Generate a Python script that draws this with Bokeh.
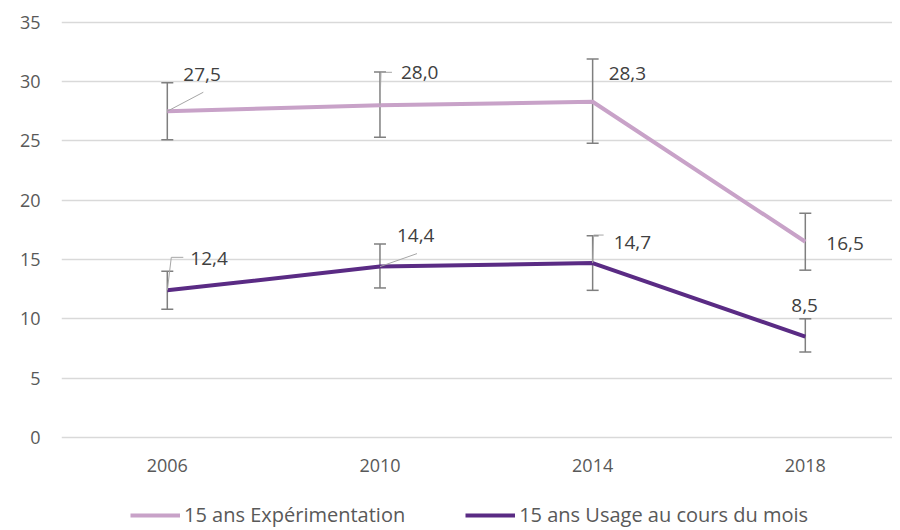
from bokeh.plotting import figure
from bokeh.models import (Range1d, FixedTicker, ColumnDataSource, Whisker, TeeHead,
                          Legend, LegendItem)
from bokeh.embed import file_html
from bokeh.resources import INLINE
from bokeh.core.properties import value

# ---- data ----
years = [2006, 2010, 2014, 2018]
year_labels = ["2006", "2010", "2014", "2018"]
exp_values = [27.5, 28.0, 28.3, 16.5]
exp_lower = [25.1, 25.3, 24.8, 14.1]
exp_upper = [29.9, 30.8, 31.9, 18.9]
exp_labels = ["27,5", "28,0", "28,3", "16,5"]
usage_values = [12.4, 14.4, 14.7, 8.5]
usage_lower = [10.8, 12.6, 12.4, 7.2]
usage_upper = [14.0, 16.3, 17.0, 10.0]
usage_labels = ["12,4", "14,4", "14,7", "8,5"]
y_ticks = [0, 5, 10, 15, 20, 25, 30, 35]
series_names = ["15 ans Expérimentation", "15 ans Usage au cours du mois"]

# ---- styles ----
EXP_COLOR = "#c8a2c8"
USE_COLOR = "#5a2b84"
BAR_COLOR = "#7f7f7f"
GRID_COLOR = "#d9d9d9"
TICK_TEXT = "#595959"
LABEL_TEXT = "#404040"
FONT = "Open Sans"

# label pixel offsets (screen, y down)
exp_off = [(16, -37), (21, -33), (16, -28), (21, 2)]
use_off = [(23, -32), (17, -31), (21, -21), (-14, -31)]
# leader lines in pixel offsets relative to point
exp_leaders = {0: [(0, 0), (36, -19)], 1: [(0, 0), (1, -33), (12, -33)]}
use_leaders = {0: [(0, 0), (4, -33), (16, -33)], 1: [(0, 0), (37, -13)],
               2: [(0, 0), (1, -28), (11, -28)]}

# frame extends below zero to hold the year labels and the legend
X0, X1 = 2004.01, 2019.64
Y0, Y1 = -7.68, 35.15
FW, FH = 831, 508

p = figure(frame_width=FW, frame_height=FH, output_backend="svg", toolbar_location=None,
           x_range=Range1d(X0, X1), y_range=Range1d(Y0, Y1),
           min_border_left=61, min_border_right=0, min_border_top=20, min_border_bottom=0)
p.outline_line_color = None
p.background_fill_color = "white"
p.border_fill_color = "white"

sx = FW / (X1 - X0)
sy = FH / (Y1 - Y0)

# axes
p.xaxis.visible = False
p.yaxis.ticker = FixedTicker(ticks=y_ticks)
ax = p.yaxis
ax.axis_line_color = None
ax.major_tick_line_color = None
ax.minor_tick_line_color = None
ax.major_tick_out = 0
ax.major_tick_in = 0
ax.major_label_text_color = TICK_TEXT
ax.major_label_text_font = FONT
ax.major_label_text_font_size = "18px"
ax.major_label_standoff = 21
p.xgrid.grid_line_color = None
p.ygrid.grid_line_color = GRID_COLOR
p.ygrid.grid_line_width = 1.3

# year labels under the zero line
ysrc = ColumnDataSource(dict(x=years, y=[0] * len(years), t=year_labels))
p.text(x="x", y="y", text="t", source=ysrc, y_offset=28,
       text_font=value(FONT), text_font_size="18px", text_color=TICK_TEXT,
       text_align="center", text_baseline="middle")

# lines
r_exp = p.line(years, exp_values, line_color=EXP_COLOR, line_width=4)
r_use = p.line(years, usage_values, line_color=USE_COLOR, line_width=4)

# error bars
for low, up in ((exp_lower, exp_upper), (usage_lower, usage_upper)):
    src = ColumnDataSource(dict(x=years, lower=low, upper=up))
    w = Whisker(source=src, base="x", lower="lower", upper="upper",
                line_color=BAR_COLOR, line_width=1.5,
                upper_head=TeeHead(size=12, line_color=BAR_COLOR, line_width=1.5),
                lower_head=TeeHead(size=12, line_color=BAR_COLOR, line_width=1.5))
    p.add_layout(w)

# leader lines
def leader_paths(vals, leaders):
    xs, ys = [], []
    for i, pts in leaders.items():
        xs.append([years[i] + dx / sx for dx, dy in pts])
        ys.append([vals[i] - dy / sy for dx, dy in pts])
    return xs, ys

for vals, leaders in ((exp_values, exp_leaders), (usage_values, use_leaders)):
    xs, ys = leader_paths(vals, leaders)
    p.multi_line(xs, ys, line_color="#a6a6a6", line_width=1)

# data labels
for vals, labels, off in ((exp_values, exp_labels, exp_off), (usage_values, usage_labels, use_off)):
    src = ColumnDataSource(dict(x=years, y=vals, t=labels,
                                dx=[o[0] for o in off], dy=[o[1] for o in off]))
    p.text(x="x", y="y", text="t", x_offset="dx", y_offset="dy", source=src,
           text_font=value(FONT), text_font_size="19px", text_color=LABEL_TEXT,
           text_align="left", text_baseline="middle")

# legend, inside the lower part of the frame
legend = Legend(items=[LegendItem(label=series_names[0], renderers=[r_exp]),
                       LegendItem(label=series_names[1], renderers=[r_use])],
                orientation="horizontal", location=(69, 0),
                glyph_width=50, glyph_height=20, label_height=20,
                label_standoff=4, spacing=60, padding=0, margin=0,
                label_text_font=FONT, label_text_font_size="20px",
                label_text_color=TICK_TEXT, border_line_color=None,
                background_fill_alpha=0)
p.add_layout(legend)

open("out.html", "w").write(file_html(p, INLINE))
